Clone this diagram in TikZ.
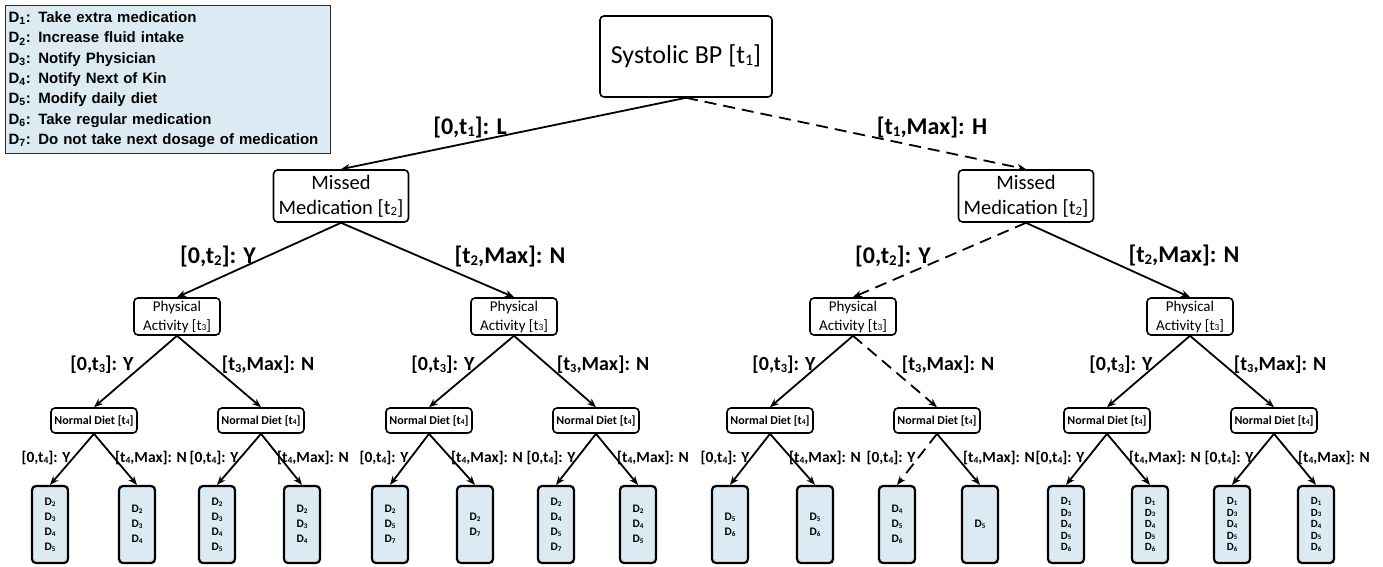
\documentclass[tikz,border=0pt]{standalone}
\usepackage{fontspec}
\setmainfont{Carlito}
\newfontfamily\legfont{Liberation Sans}
\usetikzlibrary{arrows.meta}
\definecolor{boxblue}{HTML}{DCEBF3}
\definecolor{legborder}{HTML}{2A2A2A}
\newcommand\sd[1]{\raisebox{-0.06em}{\scalebox{0.62}{#1}}}
\newcommand\Dd[1]{D\sd{#1}}
\newcommand\Dl[1]{D\textsubscript{#1}}
\begin{document}
\begin{tikzpicture}[x=1pt,y=-1pt,
  edge/.style={line width=1.8pt, -{Stealth[length=9pt,width=7pt]}},
  dedge/.style={edge, dash pattern=on 12pt off 7pt},
  rbox/.style={draw, line width=1.6pt, rounded corners=4pt, fill=white, align=center, inner sep=0pt},
  topbox/.style={rbox, minimum width=172pt, minimum height=81pt, font=\fontsize{26}{30}\selectfont},
  mmbox/.style={rbox, minimum width=135pt, minimum height=52pt, font=\fontsize{20.5}{25}\selectfont},
  pabox/.style={rbox, minimum width=86pt, minimum height=37pt, font=\fontsize{15}{19}\selectfont},
  ndbox/.style={rbox, minimum width=86pt, minimum height=25pt, font=\bfseries\fontsize{12}{14}\selectfont},
  leaf/.style={rbox, fill=boxblue, line width=2.2pt, minimum width=36pt, minimum height=77pt, font=\bfseries\fontsize{11.5}{15}\selectfont},
  leaffive/.style={leaf, font=\bfseries\fontsize{11}{11.5}\selectfont},
  lab/.style={inner sep=0pt, font=\bfseries\fontsize{24}{28}\selectfont},
  labc/.style={inner sep=0pt, font=\bfseries\fontsize{20}{24}\selectfont},
  labd/.style={inner sep=0pt, font=\bfseries\fontsize{15.5}{18}\selectfont},
]
\useasboundingbox (0,0) rectangle (1383,567);

% legend
\node[draw=legborder, line width=1.3pt, fill=boxblue, anchor=north west, text width=319pt,
      inner xsep=3pt, inner ysep=6pt, align=left,
      font=\legfont\bfseries\fontsize{15}{20.3}\selectfont] (legend) at (5,5)
  {\Dl{1}: Take extra medication\\
   \Dl{2}: Increase fluid intake\\
   \Dl{3}: Notify Physician\\
   \Dl{4}: Notify Next of Kin\\
   \Dl{5}: Modify daily diet\\
   \Dl{6}: Take regular medication\\
   \Dl{7}: Do not take next dosage of medication};

% level 0 and 1
\node[topbox] (top) at (686,56.5) {Systolic BP [t\sd{1}]};
\node[mmbox] (mL) at (341,196) {Missed\\Medication [t\sd{2}]};
\node[mmbox] (mR) at (1026,196) {Missed\\Medication [t\sd{2}]};

% level 2
\node[pabox] (pa1) at (177,316.5) {Physical\\Activity [t\sd{3}]};
\node[pabox] (pa2) at (514,316.5) {Physical\\Activity [t\sd{3}]};
\node[pabox] (pa3) at (853,316.5) {Physical\\Activity [t\sd{3}]};
\node[pabox] (pa4) at (1190,316.5) {Physical\\Activity [t\sd{3}]};

% level 3
\foreach \i/\x in {1/94,2/261,3/429,4/596,5/770,6/937,7/1107,8/1274}
  \node[ndbox] (nd\i) at (\x,420.5) {Normal Diet [t\sd{4}]};

% leaves
\node[leaf] (lf1) at (50,524.5) {\Dd{2}\\\Dd{3}\\\Dd{4}\\\Dd{5}};
\node[leaf] (lf2) at (137,524.5) {\Dd{2}\\\Dd{3}\\\Dd{4}};
\node[leaf] (lf3) at (217,524.5) {\Dd{2}\\\Dd{3}\\\Dd{4}\\\Dd{5}};
\node[leaf] (lf4) at (302,524.5) {\Dd{2}\\\Dd{3}\\\Dd{4}};
\node[leaf] (lf5) at (390,524.5) {\Dd{2}\\\Dd{5}\\\Dd{7}};
\node[leaf] (lf6) at (475,524.5) {\Dd{2}\\\Dd{7}};
\node[leaf] (lf7) at (556,524.5) {\Dd{2}\\\Dd{4}\\\Dd{5}\\\Dd{7}};
\node[leaf] (lf8) at (638,524.5) {\Dd{2}\\\Dd{4}\\\Dd{5}};
\node[leaf] (lf9) at (730,524.5) {\Dd{5}\\\Dd{6}};
\node[leaf] (lf10) at (815,524.5) {\Dd{5}\\\Dd{6}};
\node[leaf] (lf11) at (897,524.5) {\Dd{4}\\\Dd{5}\\\Dd{6}};
\node[leaf] (lf12) at (980,524.5) {\Dd{5}};
\node[leaffive] (lf13) at (1066,524.5) {\Dd{1}\\\Dd{3}\\\Dd{4}\\\Dd{5}\\\Dd{6}};
\node[leaffive] (lf14) at (1150,524.5) {\Dd{1}\\\Dd{3}\\\Dd{4}\\\Dd{5}\\\Dd{6}};
\node[leaffive] (lf15) at (1232,524.5) {\Dd{1}\\\Dd{3}\\\Dd{4}\\\Dd{5}\\\Dd{6}};
\node[leaffive] (lf16) at (1316,524.5) {\Dd{1}\\\Dd{3}\\\Dd{4}\\\Dd{5}\\\Dd{6}};

% edges
\draw[edge] (top.south) -- (mL.north);
\draw[dedge] (top.south) -- (mR.north);
\draw[edge] (mL.south) -- (pa1.north);
\draw[edge] (mL.south) -- (pa2.north);
\draw[dedge] (mR.south) -- (pa3.north);
\draw[edge] (mR.south) -- (pa4.north);
\draw[edge] (pa1.south) -- (nd1.north);
\draw[edge] (pa1.south) -- (nd2.north);
\draw[edge] (pa2.south) -- (nd3.north);
\draw[edge] (pa2.south) -- (nd4.north);
\draw[edge] (pa3.south) -- (nd5.north);
\draw[dedge] (pa3.south) -- (nd6.north);
\draw[edge] (pa4.south) -- (nd7.north);
\draw[edge] (pa4.south) -- (nd8.north);
\foreach \n/\a/\b in {1/1/2,2/3/4,3/5/6,4/7/8,5/9/10,7/13/14,8/15/16}{
  \draw[edge] (nd\n.south) -- (lf\a.north);
  \draw[edge] (nd\n.south) -- (lf\b.north);
}
\draw[dedge] (nd6.south) -- (lf11.north);
\draw[edge] (nd6.south) -- (lf12.north);

% labels level 1
\node[lab] (l1a) at (470,128) {[0,t\sd{1}]: L};
\node[lab] (l1b) at (932,128) {[t\sd{1},Max]: H};
% labels level 2
\node[lab] (l2a) at (218,257) {[0,t\sd{2}]: Y};
\node[lab] (l2b) at (510,257) {[t\sd{2},Max]: N};
\node[lab] (l2c) at (893,257) {[0,t\sd{2}]: Y};
\node[lab] (l2d) at (1184,256) {[t\sd{2},Max]: N};
% labels level 3
\foreach \k/\x in {1/102,3/443,5/784,7/1121}
  \node[labc] (l3-\k) at (\x,365) {[0,t\sd{3}]: Y};
\foreach \k/\x in {2/268,4/603,6/948,8/1280}
  \node[labc] (l3-\k) at (\x,365) {[t\sd{3},Max]: N};
% labels level 4
\foreach \k/\x in {1/46,3/214,5/384,7/551,9/725,11/891,13/1060,15/1229}
  \node[labd] (l4-\k) at (\x,458) {[0,t\sd{4}]: Y};
\foreach \k/\x in {2/151,4/313,6/487,8/653,10/825,12/999,14/1165,16/1334}
  \node[labd] (l4-\k) at (\x,458) {[t\sd{4},Max]: N};
\end{tikzpicture}
\end{document}
